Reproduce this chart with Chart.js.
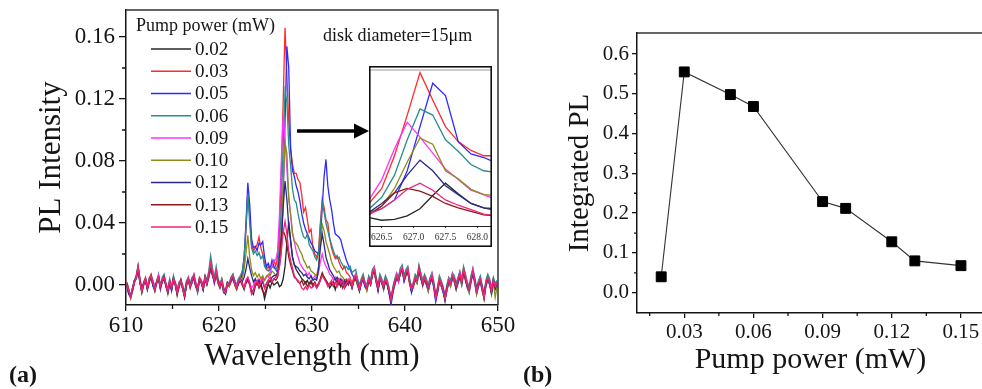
<!DOCTYPE html>
<html>
<head>
<meta charset="utf-8">
<title>PL spectra and integrated PL vs pump power</title>
<script src="https://cdn.jsdelivr.net/npm/chart.js@4/dist/chart.umd.min.js"></script>
<style>
  html, body { margin: 0; padding: 0; background: #fff; width: 982px; height: 389px; overflow: hidden; }
  #wrap { position: relative; width: 982px; height: 389px; overflow: hidden; }
  canvas { position: absolute; top: 0; }
  #cA { left: 0; }
  #cIn { left: 369px; top: 66px; background: #fff; }
  #cB { left: 520px; }
</style>
</head>
<body>
<div id="wrap">
  <canvas id="cA" width="520" height="389"></canvas>
  <canvas id="cB" width="472" height="389"></canvas>
  <canvas id="cIn" width="123" height="181"></canvas>
</div>
<script>
// Spectrometer wavelength grid (nm)
const wavelength = [
  610.1,610.3,610.5,610.7,610.9,611.1,611.3,611.5,611.7,611.9,
  612.1,612.3,612.5,612.7,612.9,613.1,613.3,613.5,613.7,613.9,
  614.1,614.3,614.5,614.7,614.9,615.1,615.3,615.5,615.7,615.9,
  616.1,616.3,616.5,616.7,616.9,617.1,617.3,617.5,617.7,617.9,
  618.1,618.3,618.5,618.7,618.9,619.1,619.3,619.5,619.7,619.9,
  620.1,620.3,620.5,620.7,620.9,621.1,621.3,621.5,621.7,621.9,
  622.1,622.3,622.5,622.7,622.9,623.1,623.3,623.5,623.7,623.9,
  624.1,624.3,624.5,624.7,624.9,625.1,625.3,625.5,625.7,625.9,
  626.1,626.3,626.5,626.7,626.9,627.1,627.3,627.5,627.7,627.9,
  628.1,628.3,628.5,628.7,628.9,629.1,629.3,629.5,629.7,629.9,
  630.1,630.3,630.5,630.7,630.9,631.1,631.3,631.5,631.7,631.9,
  632.1,632.3,632.5,632.7,632.9,633.1,633.3,633.5,633.7,633.9,
  634.1,634.3,634.5,634.7,634.9,635.1,635.3,635.5,635.7,635.9,
  636.1,636.3,636.5,636.7,636.9,637.1,637.3,637.5,637.7,637.9,
  638.1,638.3,638.5,638.7,638.9,639.1,639.3,639.5,639.7,639.9,
  640.1,640.3,640.5,640.7,640.9,641.1,641.3,641.5,641.7,641.9,
  642.1,642.3,642.5,642.7,642.9,643.1,643.3,643.5,643.7,643.9,
  644.1,644.3,644.5,644.7,644.9,645.1,645.3,645.5,645.7,645.9,
  646.1,646.3,646.5,646.7,646.9,647.1,647.3,647.5,647.7,647.9,
  648.1,648.3,648.5,648.7,648.9,649.1,649.3,649.5,649.7,649.9
];

// PL intensity at each pump power (mW)
const p002 = [
  0,-.005,-.007,-.002,.003,.004,.010,.002,-.005,0,
  .003,-.003,.002,.005,0,-.004,.001,.004,-.002,.002,
  .004,-.001,-.005,.001,-.003,.003,0,-.006,-.001,.002,
  -.003,-.008,0,.003,-.002,.002,.005,-.001,-.004,.003,
  .001,-.003,.004,0,.005,.010,.006,.002,.007,.001,
  -.002,.002,-.004,-.006,0,-.001,.003,.005,0,-.003,
  .001,.003,0,-.003,.002,.004,.001,-.004,-.006,-.001,
  .002,-.002,.001,-.003,-.009,-.004,.001,-.002,.002,0,
  .001,.002,-.001,0,.004,.012,.027,.041,.029,.018,
  .013,.010,.008,.006,.004,.003,.001,.003,0,.002,
  -.001,.001,-.002,0,.003,.007,.005,.003,.001,-.002,
  0,.002,-.003,.001,.003,-.001,.002,-.002,0,.003,
  .002,-.002,.003,.005,0,-.004,.001,.004,-.001,-.003,
  .003,0,.007,.009,.002,-.003,.004,.001,-.002,.003,
  0,-.005,-.009,-.004,.001,.005,.002,.008,.010,.003,
  .007,.009,.001,-.004,-.001,.004,.002,.009,.005,0,
  .004,.001,-.003,.002,.005,-.001,-.008,-.004,.003,0,
  -.004,-.010,-.003,.002,0,.005,.003,-.002,.002,.006,
  .001,.008,.004,-.001,-.004,.003,.008,.002,-.005,0,
  .003,-.003,-.009,0,.004,.001,-.005,.002,-.002,0
];
const p003 = [
  .002,-.003,-.008,-.004,.001,.006,.012,.004,-.003,.002,
  .005,-.001,.004,.007,.002,-.002,.003,.006,0,.004,
  .006,.001,-.003,.003,-.001,.005,.002,-.004,.001,.004,
  -.001,-.006,.002,.005,0,.004,.007,.001,-.002,.005,
  .003,-.001,.006,.002,.008,.015,.009,.004,.010,.003,
  0,.004,-.002,-.004,.002,.001,.005,.007,.002,0,
  .003,.005,.006,.014,.035,.060,.045,.026,.022,.024,
  .026,.031,.024,.020,.014,.010,.012,.009,.013,.016,
  .012,.018,.035,.072,.118,.166,.135,.105,.088,.078,
  .072,.072,.068,.066,.058,.047,.050,.042,.034,.036,
  .024,.020,.018,.022,.040,.055,.050,.042,.040,.030,
  .024,.020,.017,.019,.015,.012,.010,.012,.008,.007,
  .005,.001,.005,.007,.002,-.002,.003,.006,.001,-.001,
  .005,.002,.009,.011,.004,-.001,.006,.003,0,.005,
  .002,-.003,-.010,-.002,.003,.007,.004,.010,.011,.005,
  .009,.011,.003,-.002,.001,.006,.004,.012,.007,.002,
  .006,.003,-.001,.004,.007,.001,-.008,-.002,.005,.002,
  -.002,-.008,-.001,.004,.002,.007,.005,0,.004,.008,
  .003,.011,.006,.001,-.002,.005,.010,.004,-.003,.002,
  .005,-.001,-.007,.002,.006,.003,-.003,.004,0,.002
];
const p005 = [
  -.001,-.006,-.007,-.002,.003,.005,.010,.001,-.004,.001,
  .002,-.002,.003,.005,-.001,-.003,.002,.004,-.003,.003,
  .005,0,-.004,.001,-.004,.004,.001,-.005,-.002,.003,
  -.002,-.007,-.001,.004,0,.001,.005,0,-.005,.004,
  .002,-.003,.003,.001,.005,.012,.008,.001,.007,.002,
  -.001,.001,-.005,-.005,.001,0,.002,.004,.001,-.002,
  .004,.003,.008,.018,.040,.066,.052,.030,.024,.025,
  .022,.027,.026,.028,.018,.012,.014,.010,.016,.012,
  .010,.008,.012,.022,.055,.105,.154,.140,.088,.074,
  .070,.064,.060,.054,.046,.040,.036,.033,.030,.027,
  .025,.022,.021,.020,.030,.050,.070,.081,.064,.055,
  .049,.040,.033,.032,.031,.029,.024,.020,.016,.013,
  .010,.007,.005,.003,.001,-.003,.001,.004,-.001,-.003,
  .002,.001,.008,.008,.003,-.004,.003,.002,-.003,.002,
  .001,-.006,-.013,-.005,0,.004,.003,.007,.010,.002,
  .006,.008,.002,-.005,0,.003,.001,.009,.004,.001,
  .003,0,-.004,.001,.004,-.002,-.011,-.005,.002,-.001,
  -.005,-.009,-.004,.001,-.001,.004,.002,-.003,.001,.005,
  0,.008,.003,-.002,-.005,.002,.007,.001,-.006,-.001,
  .002,-.004,-.008,-.001,.003,0,-.006,.001,-.003,-.001
];
const p006 = [
  .001,-.003,-.007,-.002,.003,.006,.013,.004,-.003,.002,
  .004,-.002,.005,.006,.003,-.001,.002,.007,-.001,.005,
  .007,0,-.002,.004,-.002,.006,.001,-.003,.002,.003,
  0,-.005,.003,.004,.001,.005,.006,.002,-.001,.004,
  .003,-.001,.006,.003,.009,.019,.011,.005,.012,.004,
  .001,.004,-.002,-.003,.002,.001,.005,.007,.003,0,
  .004,.006,.009,.017,.038,.059,.040,.024,.020,.022,
  .019,.021,.017,.019,.012,.010,.009,.011,.012,.011,
  .010,.012,.025,.050,.090,.125,.118,.090,.077,.062,
  .055,.053,.046,.040,.035,.031,.030,.033,.026,.024,
  .022,.018,.016,.020,.038,.053,.047,.040,.035,.030,
  .026,.022,.019,.017,.018,.015,.013,.011,.012,.010,
  .012,.008,.009,.010,.004,0,.004,.007,.002,0,
  .006,.003,.010,.012,.005,0,.007,.004,.001,.006,
  .003,-.002,-.009,-.001,.004,.008,.005,.011,.013,.006,
  .010,.012,.004,-.001,.002,.007,.005,.013,.008,.003,
  .007,.004,0,.005,.008,.002,-.007,-.001,.006,.003,
  -.001,-.007,0,.005,.003,.008,.006,.001,.005,.009,
  .004,.012,.007,.002,-.001,.006,.011,.005,-.002,.003,
  .006,0,-.006,.003,.007,.004,-.002,.005,.001,.003
];
const p009 = [
  .001,-.003,-.008,-.004,.002,.004,.010,.004,-.003,0,
  .003,-.001,.003,.005,.002,-.002,.001,.006,-.002,.004,
  .004,.001,-.003,.003,-.001,.003,.002,-.004,.001,.002,
  -.001,-.006,0,.005,0,.002,.007,.001,-.002,.003,
  .003,-.001,.004,.002,.005,.012,.009,.002,.009,.001,
  0,.002,-.002,-.004,0,.001,.003,.005,.002,-.001,
  .002,.004,.001,-.001,.003,.005,.002,-.002,0,.003,
  .001,.004,.002,.005,.003,.006,.005,.008,.012,.016,
  .016,.022,.045,.080,.110,.093,.075,.057,.045,.033,
  .028,.022,.018,.014,.012,.010,.009,.006,.008,.005,
  .004,.006,.004,.008,.015,.020,.015,.012,.010,.007,
  .006,.003,.005,.002,.004,.001,.003,0,.002,.004,
  .004,0,.003,.007,0,-.002,.003,.004,.001,-.001,
  .003,.002,.007,.011,.002,-.001,.004,.003,0,.003,
  .002,-.003,-.009,-.002,.001,.007,.002,.010,.010,.005,
  .007,.011,.001,-.002,.001,.004,.004,.010,.007,0,
  .004,.003,-.001,.002,.007,-.001,-.008,-.002,.003,.002,
  -.002,-.008,-.003,.004,0,.007,.003,0,.002,.008,
  .003,.009,.006,-.001,-.002,.003,.010,.002,-.003,0,
  .003,-.001,-.007,.002,.004,.003,-.003,.002,0,0
];
const p010 = [
  .001,-.004,-.009,-.004,.002,.004,.011,.003,-.005,0,
  .003,-.002,.003,.005,.001,-.004,.002,.004,-.002,.003,
  .004,0,-.006,.001,-.002,.003,.001,-.007,-.001,.002,
  -.003,-.007,0,.004,-.002,.003,.005,-.001,-.004,.004,
  .002,-.003,.004,.001,.006,.012,.007,.003,.008,.001,
  -.002,.003,-.004,-.005,0,-.001,.003,.006,0,-.003,
  .002,.003,.004,.010,.020,.032,.018,.010,.006,.008,
  .005,.007,.004,.006,.003,.005,.007,.006,.009,.008,
  .006,.006,.015,.035,.065,.092,.085,.055,.046,.034,
  .028,.027,.025,.022,.020,.016,.014,.011,.012,.009,
  .008,.007,.006,.012,.028,.039,.035,.028,.024,.020,
  .015,.012,.010,.008,.009,.006,.005,.003,.004,.002,
  .004,-.001,.002,.006,-.001,-.003,.002,.003,0,-.004,
  .002,.001,.006,.010,.001,-.002,.003,.002,-.003,.004,
  .001,-.004,-.008,-.005,.002,.004,.003,.007,.009,.004,
  .006,.010,0,-.003,-.002,.005,.001,.008,.006,-.001,
  .003,.002,-.004,.003,.004,0,-.007,-.005,.004,-.001,
  -.003,-.008,-.004,.003,-.001,.006,.002,-.003,.003,.005,
  0,.009,.003,0,-.005,.004,.007,.003,-.006,.001,
  .003,-.003,-.009,0,.004,.001,-.006,.002,-.008,-.001
];
const p012 = [
  0,-.006,-.008,-.003,.002,.005,.010,.002,-.004,.001,
  .004,-.003,.002,.006,0,-.003,.002,.005,-.002,.003,
  .005,-.001,-.005,.002,-.003,.004,0,-.006,0,.003,
  -.002,-.008,.001,.004,-.001,.003,.005,-.001,-.003,.004,
  .002,-.003,.005,.001,.006,.012,.007,.002,.008,.002,
  -.001,.002,-.003,-.005,.001,0,.004,.005,.001,-.002,
  .002,.004,.002,.005,.010,.017,.011,.006,.002,.004,
  .001,.003,0,.002,-.002,.001,.003,.002,.005,.006,
  .006,.008,.018,.030,.050,.067,.055,.038,.028,.018,
  .013,.012,.011,.009,.008,.006,.007,.005,.004,.006,
  .003,.004,.003,.010,.024,.033,.026,.018,.014,.010,
  .008,.006,.003,.005,.002,.004,.001,.003,0,.002,
  .002,-.002,.003,.005,.001,-.004,.002,.004,-.001,-.002,
  .003,.001,.007,.009,.003,-.003,.004,.002,-.002,.003,
  0,-.005,-.011,-.004,.001,.005,.003,.008,.010,.004,
  .007,.009,.002,-.004,0,.004,.003,.010,.005,0,
  .004,.001,-.002,.002,.005,0,-.009,-.004,.003,.001,
  -.003,-.010,-.002,.002,.001,.005,.004,-.002,.002,.006,
  .002,.009,.004,-.001,-.003,.003,.008,.003,-.004,0,
  .003,-.002,-.008,.001,.004,.002,-.005,.002,-.002,.001
];
const p013 = [
  .001,-.004,-.007,-.003,.002,.005,.011,.003,-.004,.001,
  .003,-.002,.003,.005,.001,-.003,.002,.005,-.001,.002,
  .005,0,-.004,.002,-.002,.004,.001,-.005,0,.002,
  -.002,-.006,.001,.003,-.001,.003,.006,0,-.003,.003,
  .002,-.002,.004,.001,.006,.011,.007,.003,.008,.002,
  -.001,.002,-.003,-.004,.001,0,.003,.005,.001,-.002,
  .001,.003,0,-.002,.001,.003,0,-.005,-.003,.001,
  0,.002,-.001,-.004,-.006,-.002,.001,.003,.002,.004,
  .003,.005,.015,.030,.035,.032,.026,.018,.013,.009,
  .005,.004,.002,.001,.003,0,.002,-.001,.001,.003,
  0,.002,-.001,.001,.004,.008,.005,.003,.001,0,
  .002,-.001,.001,.003,0,.002,-.002,.001,.003,0,
  .002,-.001,.003,.005,.001,-.003,.002,.004,0,-.002,
  .003,.001,.007,.009,.003,-.002,.004,.002,-.001,.003,
  .001,-.004,-.009,-.003,.002,.005,.003,.008,.010,.004,
  .007,.009,.002,-.003,0,.004,.003,.010,.005,.001,
  .004,.002,-.002,.003,.005,0,-.008,-.003,.003,.001,
  -.003,-.008,-.002,.003,.001,.005,.004,-.001,.003,.006,
  .002,.009,.004,0,-.003,.004,.008,.003,-.003,.001,
  .003,-.002,-.007,.001,.004,.002,-.004,.003,-.001,.001
];
const p015 = [
  0,-.004,-.008,-.002,.002,.005,.012,.002,-.004,.001,
  .004,-.002,.003,.006,.001,-.003,.002,.005,-.001,.003,
  .005,0,-.004,.002,-.002,.004,.001,-.005,0,.003,
  -.002,-.007,.001,.004,-.001,.003,.006,0,-.003,.004,
  .002,-.002,.005,.001,.007,.014,.008,.003,.009,.002,
  -.001,.003,-.003,-.005,.001,0,.004,.006,.001,-.002,
  .002,.004,.001,-.002,.003,.005,.001,-.006,-.004,0,
  .003,-.001,.002,.004,-.002,.001,.003,.005,.002,.004,
  .005,.006,.012,.022,.034,.041,.033,.022,.016,.011,
  .006,.004,.003,.001,-.002,-.003,-.001,-.003,0,-.002,
  -.001,.001,-.002,0,.003,.006,.004,.002,-.001,.001,
  .003,0,.002,-.001,.004,.001,.003,-.002,.001,.003,
  .003,-.001,.004,.006,.001,-.003,.002,.005,0,-.002,
  .004,.001,.008,.010,.003,-.002,.005,.002,-.001,.004,
  .001,-.004,-.010,-.003,.002,.006,.003,.009,.011,.004,
  .008,.010,.002,-.003,0,.005,.003,.011,.006,.001,
  .005,.002,-.002,.003,.006,0,-.009,-.003,.004,.001,
  -.003,-.009,-.002,.003,.001,.006,.004,-.001,.003,.007,
  .002,.010,.005,0,-.003,.004,.009,.003,-.004,.001,
  .004,-.002,-.008,.001,.005,.002,-.004,.003,-.001,.001
];

// Pump powers (mW) and integrated PL
const pumpPower = [0.02, 0.03, 0.05, 0.06, 0.09, 0.10, 0.12, 0.13, 0.15];
const integratedPL = [0.040, 0.555, 0.498, 0.468, 0.229, 0.212, 0.128, 0.080, 0.068];

// Tick values
const wlTicks = [610, 620, 630, 640, 650];
const wlMinor = [615, 625, 635, 645];
const intensityTicks = [0, 0.04, 0.08, 0.12, 0.16];
const intensityMinor = [0.02, 0.06, 0.10, 0.14];
const insetTicks = [626.5, 627.0, 627.5, 628.0];
const powerTicks = [0.03, 0.06, 0.09, 0.12, 0.15];
const powerMinor = [0.015, 0.045, 0.075, 0.105, 0.135];
const plTicks = [0, 0.1, 0.2, 0.3, 0.4, 0.5, 0.6];
const plMinor = [0.05, 0.15, 0.25, 0.35, 0.45, 0.55];

const seriesColors = ['#262626', '#ff2a2a', '#2b2bff', '#2a8c8c', '#ff33ff',
                      '#8c8c1a', '#2a2a8c', '#8c1a1a', '#f5237d'];

const serif = '"Liberation Serif", "Times New Roman", serif';
const ink = '#151515';
Chart.defaults.font.family = serif;
Chart.defaults.color = ink;

const spectra = [p002, p003, p005, p006, p009, p010, p012, p013, p015];
const pumpLabels = pumpPower.map(v => v.toFixed(2));

function spectrumSets() {
  return spectra.map((s, i) => ({
    label: pumpLabels[i],
    data: wavelength.map((x, k) => ({ x, y: s[k] })),
    borderColor: seriesColors[i],
    backgroundColor: seriesColors[i],
    borderWidth: 1.3,
    pointRadius: 0,
    tension: 0,
    fill: false,
    order: spectra.length - 1 - i   // last power drawn on top
  }));
}

const fixedTicks = vals => s => { s.ticks = vals.map(value => ({ value })); };

// short outward ticks between the labelled ones
function minorTicks(xVals, yVals, len) {
  return {
    id: 'minorTicks',
    afterDraw(chart) {
      const { ctx, scales: { x, y }, chartArea } = chart;
      ctx.save();
      ctx.strokeStyle = ink;
      ctx.lineWidth = 1.3;
      ctx.beginPath();
      xVals.forEach(v => {
        const px = x.getPixelForValue(v);
        ctx.moveTo(px, chartArea.bottom);
        ctx.lineTo(px, chartArea.bottom + len);
      });
      yVals.forEach(v => {
        const py = y.getPixelForValue(v);
        ctx.moveTo(chartArea.left, py);
        ctx.lineTo(chartArea.left - len, py);
      });
      ctx.stroke();
      ctx.restore();
    }
  };
}

// top and right edges of the plot box
const frame = {
  id: 'frame',
  afterDraw(chart) {
    const { ctx, chartArea: a } = chart;
    ctx.save();
    ctx.strokeStyle = '#333';
    ctx.lineWidth = 1.5;
    ctx.beginPath();
    ctx.moveTo(a.left, a.top);
    ctx.lineTo(a.right, a.top);
    ctx.lineTo(a.right, a.bottom);
    ctx.stroke();
    ctx.restore();
  }
};

// legend, sample note, arrow to the zoomed view and panel letter
const annotateA = {
  id: 'annotateA',
  afterDraw(chart) {
    const ctx = chart.ctx;
    ctx.save();
    ctx.fillStyle = ink;
    ctx.textAlign = 'left';
    ctx.textBaseline = 'middle';
    ctx.font = '18px ' + serif;
    ctx.fillText('Pump power (mW)', 136, 26);
    chart.data.datasets.forEach((ds, i) => {
      const y = 49 + i * 22.25;
      ctx.strokeStyle = ds.borderColor;
      ctx.lineWidth = 1.5;
      ctx.beginPath();
      ctx.moveTo(151, y);
      ctx.lineTo(191, y);
      ctx.stroke();
      ctx.font = '19px ' + serif;
      ctx.fillText(ds.label, 195, y + 1);
    });
    ctx.font = '18px ' + serif;
    ctx.fillText('disk diameter=15\u03bcm', 323, 36);

    ctx.strokeStyle = '#000';
    ctx.fillStyle = '#000';
    ctx.lineWidth = 3.5;
    ctx.beginPath();
    ctx.moveTo(297, 131);
    ctx.lineTo(357, 131);
    ctx.stroke();
    ctx.beginPath();
    ctx.moveTo(354, 123.5);
    ctx.lineTo(369, 131);
    ctx.lineTo(354, 138.5);
    ctx.closePath();
    ctx.fill();

    ctx.fillStyle = ink;
    ctx.font = 'bold 24px ' + serif;
    ctx.fillText('(a)', 9, 376);
    ctx.restore();
  }
};

const insetFrame = {
  id: 'insetFrame',
  afterDraw(chart) {
    const { ctx, chartArea: a, width, height } = chart;
    ctx.save();
    ctx.strokeStyle = '#999';
    ctx.lineWidth = 1.2;
    ctx.beginPath();
    ctx.moveTo(0, a.top);
    ctx.lineTo(width, a.top);
    ctx.stroke();
    ctx.strokeStyle = '#111';
    ctx.lineWidth = 1.6;
    ctx.strokeRect(0.8, 0.8, width - 1.6, height - 1.6);
    ctx.restore();
  }
};

const labelB = {
  id: 'labelB',
  afterDraw(chart) {
    const ctx = chart.ctx;
    ctx.save();
    ctx.fillStyle = ink;
    ctx.textAlign = 'left';
    ctx.textBaseline = 'middle';
    ctx.font = 'bold 24px ' + serif;
    ctx.fillText('(b)', 3, 376);
    ctx.restore();
  }
};

const axisLine = { color: ink, width: 1.5 };

// (a) PL spectra
new Chart(document.getElementById('cA'), {
  type: 'line',
  data: { datasets: spectrumSets() },
  options: {
    responsive: false,
    animation: false,
    events: [],
    layout: { padding: { left: 0, top: 10, right: 22, bottom: 0 } },
    plugins: { legend: { display: false }, tooltip: { enabled: false } },
    scales: {
      x: {
        type: 'linear', min: 610, max: 650,
        afterBuildTicks: fixedTicks(wlTicks),
        afterFit: s => { s.height = 84; s.paddingLeft = 0; s.paddingRight = 0; },
        ticks: { font: { size: 23 }, color: ink, padding: 1, maxRotation: 0, autoSkip: false,
                 callback: v => String(v) },
        grid: { drawOnChartArea: false, tickLength: 6, color: ink, lineWidth: 1.3 },
        border: axisLine,
        title: { display: true, text: 'Wavelength (nm)', font: { size: 31 }, color: ink,
                 padding: { top: 0, bottom: 14 } }
      },
      y: {
        min: -0.0129, max: 0.1774,
        afterBuildTicks: fixedTicks(intensityTicks),
        afterFit: s => { s.width = 126; s.paddingTop = 0; s.paddingBottom = 0; },
        ticks: { font: { size: 23 }, color: ink, padding: 4, callback: v => v.toFixed(2) },
        grid: { drawOnChartArea: false, tickLength: 7, color: ink, lineWidth: 1.3 },
        border: axisLine,
        title: { display: true, text: 'PL Intensity', font: { size: 31 }, color: ink,
                 padding: { top: 33, bottom: 0 } }
      }
    }
  },
  plugins: [minorTicks(wlMinor, intensityMinor, 4), frame, annotateA]
});

// zoom on the main mode
new Chart(document.getElementById('cIn'), {
  type: 'line',
  data: { datasets: spectrumSets() },
  options: {
    responsive: false,
    animation: false,
    events: [],
    layout: { padding: { left: 0, top: 4, right: 0, bottom: 0 } },
    plugins: { legend: { display: false }, tooltip: { enabled: false } },
    scales: {
      x: {
        type: 'linear', min: 626.3, max: 628.23,
        afterBuildTicks: fixedTicks(insetTicks),
        afterFit: s => { s.height = 21; s.paddingLeft = 0; s.paddingRight = 0; },
        ticks: { font: { size: 9.5 }, color: '#333', padding: 4, maxRotation: 0, autoSkip: false,
                 callback: v => v.toFixed(1) },
        grid: { drawOnChartArea: false, tickLength: 2, color: '#444', lineWidth: 1 },
        border: { color: '#222', width: 1 }
      },
      y: { display: false, min: -0.0075, max: 0.169 }
    }
  },
  plugins: [insetFrame]
});

// (b) integrated PL
new Chart(document.getElementById('cB'), {
  type: 'line',
  data: {
    datasets: [{
      label: 'Integrated PL',
      data: pumpPower.map((x, i) => ({ x, y: integratedPL[i] })),
      borderColor: '#333',
      borderWidth: 1.1,
      pointStyle: 'rect',
      pointRadius: 7,
      pointBackgroundColor: '#000',
      pointBorderColor: '#000',
      pointBorderWidth: 1,
      tension: 0
    }]
  },
  options: {
    responsive: false,
    animation: false,
    events: [],
    layout: { padding: { left: 0, top: 33, right: 2, bottom: 0 } },
    plugins: { legend: { display: false }, tooltip: { enabled: false } },
    scales: {
      x: {
        type: 'linear', min: 0.0095, max: 0.16,
        afterBuildTicks: fixedTicks(powerTicks),
        afterFit: s => { s.height = 76; s.paddingLeft = 0; s.paddingRight = 0; },
        ticks: { font: { size: 21 }, color: ink, padding: 2, maxRotation: 0, autoSkip: false,
                 callback: v => v.toFixed(2) },
        grid: { drawOnChartArea: false, tickLength: 5, color: ink, lineWidth: 1.3 },
        border: axisLine,
        title: { display: true, text: 'Pump power (mW)', font: { size: 30 }, color: ink,
                 padding: { top: 0, bottom: 11 } }
      },
      y: {
        min: -0.051, max: 0.6528,
        afterBuildTicks: fixedTicks(plTicks),
        afterFit: s => { s.width = 117; s.paddingTop = 0; s.paddingBottom = 0; },
        ticks: { font: { size: 21 }, color: ink, padding: 3, callback: v => v.toFixed(1) },
        grid: { drawOnChartArea: false, tickLength: 5, color: ink, lineWidth: 1.3 },
        border: axisLine,
        title: { display: true, text: 'Integrated PL', font: { size: 29 }, color: ink,
                 padding: { top: 43, bottom: 0 } }
      }
    }
  },
  plugins: [minorTicks(powerMinor, plMinor, 3), frame, labelB]
});
</script>
</body>
</html>
